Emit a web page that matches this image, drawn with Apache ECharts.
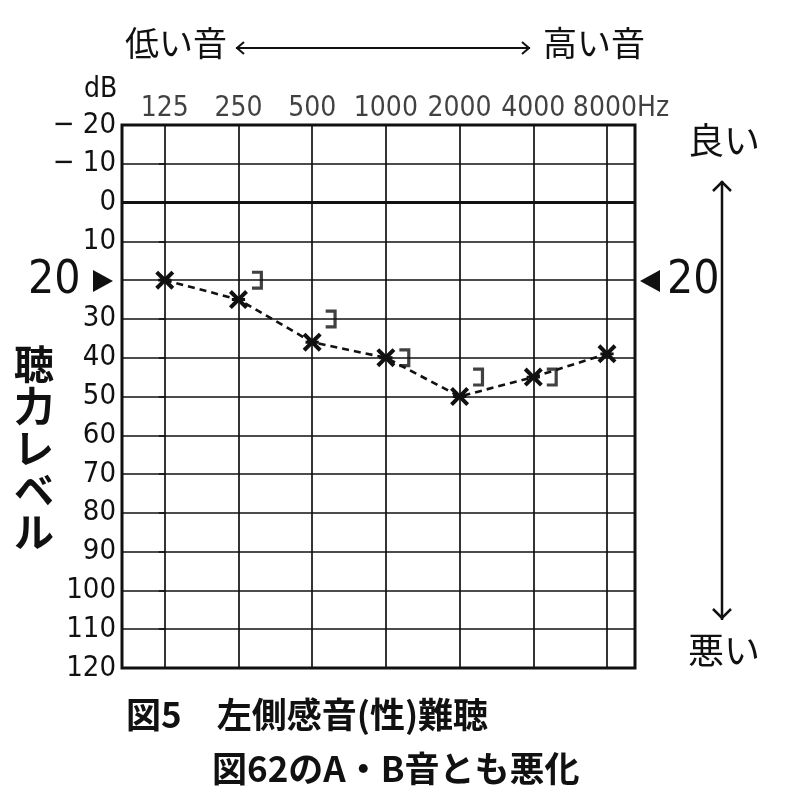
<!DOCTYPE html>
<html>
<head>
<meta charset="utf-8">
<script src="https://cdn.jsdelivr.net/npm/echarts@6/dist/echarts.min.js"></script>
<style>
  html, body { margin: 0; padding: 0; background: #fff; }
  #chart { width: 788px; height: 800px; }
</style>
</head>
<body>
<div id="chart"></div>
<script>
(function () {
  'use strict';

  // Frequencies (column index -> label)
  var freqLabels = ['125', '250', '500', '1000', '2000', '4000', '8000'];

  // Air conduction (X marks), dB per frequency
  var airValues = [20, 25, 36, 40, 50, 45, 39];

  // Bone conduction (] marks): [column index, dB]
  var boneIdx = [1, 2, 3, 4, 5];
  var boneValues = [20, 30, 40, 45, 45];

  // dB scale
  var dbMin = -20;
  var dbMax = 120;
  var dbStep = 10;

  var NARROW = '"DejaVu Sans Condensed", "Liberation Sans Narrow", sans-serif';
  var JP = '"Noto Sans CJK JP", "Noto Sans", sans-serif';

  // thick X with a short horizontal bar (asterisk-like)
  var xPath = 'path://M0,3 L3,0 L10,7 L17,0 L20,3 L13,10 L20,17 L17,20 L10,13 L3,20 L0,17 L7,10 Z ' +
    'M3,8.5 L17,8.5 L17,11.5 L3,11.5 Z';
  var bracketPath = 'path://M0,0 L11,0 L11,19 L0,19 L0,15.8 L7.8,15.8 L7.8,3.2 L0,3.2 Z';

  var airData = airValues.map(function (v, i) { return [i, v]; });
  var boneData = boneIdx.map(function (i, k) { return [i, boneValues[k]]; });
  var labelData = freqLabels.map(function (f, i) {
    var item = { value: [i, dbMin] };
    if (i === freqLabels.length - 1) {
      item.label = { formatter: f + 'Hz', offset: [14, 0] };
    }
    return item;
  });
  var vLines = freqLabels.map(function (f, i) { return { xAxis: i }; });

  var chart = echarts.init(document.getElementById('chart'));

  var option = {
    backgroundColor: '#fff',
    animation: false,
    grid: {
      left: 122, top: 125, width: 513, height: 543,
      show: true, borderColor: '#111', borderWidth: 3, backgroundColor: '#fff'
    },
    xAxis: {
      type: 'value', min: -0.58, max: 6.38,
      axisLine: { show: false }, axisTick: { show: false },
      axisLabel: { show: false }, splitLine: { show: false }
    },
    yAxis: {
      type: 'value', inverse: true, min: dbMin, max: dbMax, interval: dbStep,
      axisLine: { show: false },
      axisTick: { show: true, length: 6, lineStyle: { color: '#111', width: 1.5 } },
      axisLabel: {
        color: '#111', fontSize: 29, fontFamily: NARROW, margin: 6,
        formatter: function (v) {
          if (v === 20) return '';
          if (v < 0) return '\u2212 ' + Math.abs(v);
          return String(v);
        }
      },
      splitLine: { show: true, lineStyle: { color: '#111', width: 1.7 } }
    },
    series: [
      {
        type: 'scatter',
        data: labelData,
        symbolSize: 0,
        silent: true,
        label: {
          show: true, position: 'top', distance: 2,
          formatter: function (p) { return freqLabels[p.dataIndex]; },
          color: '#111', fontSize: 28, fontFamily: NARROW
        },
        markLine: {
          silent: true, symbol: 'none', animation: false,
          label: { show: false },
          lineStyle: { color: '#111', width: 1.7, type: 'solid' },
          data: vLines.concat([{ yAxis: 0, lineStyle: { width: 3 } }])
        }
      },
      {
        type: 'line',
        data: airData,
        symbol: xPath,
        symbolSize: 19,
        itemStyle: { color: '#111' },
        lineStyle: { color: '#111', width: 2.6, type: [7, 5] },
        z: 5
      },
      {
        type: 'scatter',
        data: boneData,
        symbol: bracketPath,
        symbolSize: [11, 19],
        symbolKeepAspect: false,
        symbolOffset: [19, 0],
        itemStyle: { color: '#111' },
        z: 5
      }
    ],
    graphic: [
      // top: 低い音 <-> 高い音
      { type: 'text', left: 125, top: 26, style: { text: '低い音', fontSize: 34, fontFamily: JP, fill: '#111' } },
      { type: 'text', left: 543, top: 26, style: { text: '高い音', fontSize: 34, fontFamily: JP, fill: '#111' } },
      { type: 'line', shape: { x1: 236, y1: 48, x2: 530, y2: 48 }, style: { stroke: '#111', lineWidth: 2 } },
      { type: 'polyline', shape: { points: [[244, 42], [237, 48], [244, 54]] }, style: { stroke: '#111', lineWidth: 2, fill: null } },
      { type: 'polyline', shape: { points: [[522, 42], [529, 48], [522, 54]] }, style: { stroke: '#111', lineWidth: 2, fill: null } },
      // dB unit
      { type: 'text', left: 84, top: 76, style: { text: 'dB', fontSize: 28, fontFamily: NARROW, fill: '#111' } },
      // 20 markers
      { type: 'text', left: 28, top: 258, style: { text: '20', fontSize: 46, fontFamily: NARROW, fill: '#111' } },
      { type: 'polygon', shape: { points: [[93, 270], [113, 281], [93, 292]] }, style: { fill: '#111' } },
      { type: 'polygon', shape: { points: [[660, 270], [640, 281], [660, 292]] }, style: { fill: '#111' } },
      { type: 'text', left: 667, top: 258, style: { text: '20', fontSize: 46, fontFamily: NARROW, fill: '#111' } },
      // vertical axis title
      {
        type: 'text', left: 14, top: 343,
        style: { text: '聴\n力\nレ\nベ\nル', fontSize: 40, lineHeight: 42, fontWeight: 'bold', fontFamily: JP, fill: '#111' }
      },
      // right: 良い / 悪い with double arrow
      { type: 'text', left: 688, top: 122, style: { text: '良い', fontSize: 36, fontFamily: JP, fill: '#111' } },
      { type: 'text', left: 688, top: 632, style: { text: '悪い', fontSize: 36, fontFamily: JP, fill: '#111' } },
      { type: 'line', shape: { x1: 722, y1: 181, x2: 722, y2: 620 }, style: { stroke: '#111', lineWidth: 2.5 } },
      { type: 'polyline', shape: { points: [[713, 191], [722, 182], [731, 191]] }, style: { stroke: '#111', lineWidth: 2.5, fill: null } },
      { type: 'polyline', shape: { points: [[713, 609], [722, 618], [731, 609]] }, style: { stroke: '#111', lineWidth: 2.5, fill: null } },
      // caption
      { type: 'text', left: 126, top: 697, style: { text: '図5　左側感音(性)難聴', fontSize: 35, fontWeight: 'bold', fontFamily: JP, fill: '#111' } },
      { type: 'text', left: 212, top: 751, style: { text: '図62のA・B音とも悪化', fontSize: 35, fontWeight: 'bold', fontFamily: JP, fill: '#111' } }
    ]
  };

  chart.setOption(option);
})();
</script>
</body>
</html>
